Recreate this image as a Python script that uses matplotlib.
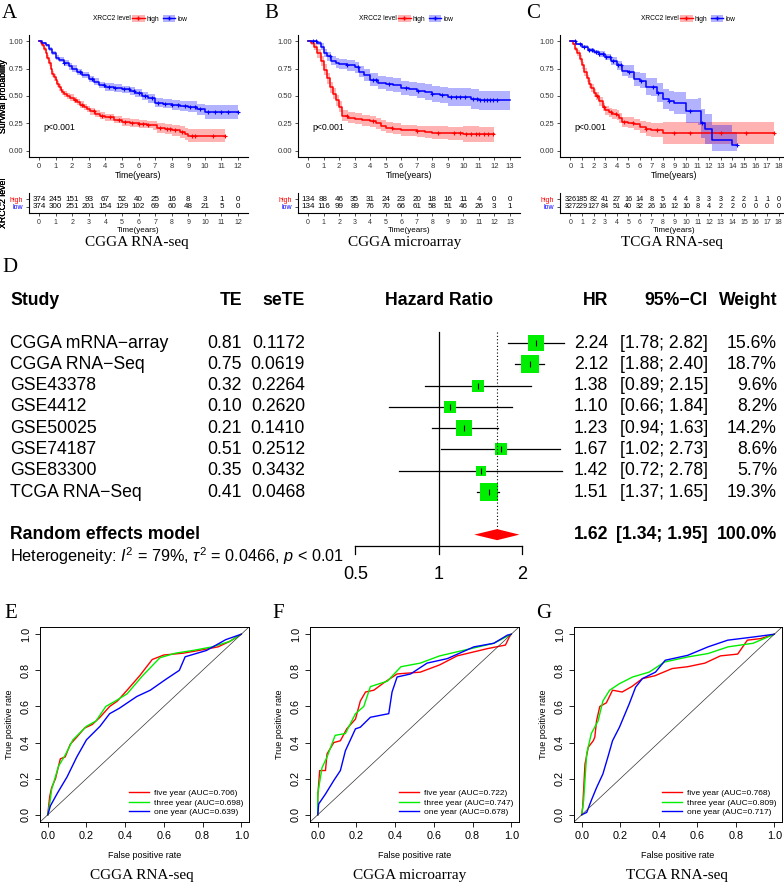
import numpy as np
import matplotlib
matplotlib.use("Agg")
import matplotlib.pyplot as plt
from matplotlib.patches import Patch, Polygon
from matplotlib.lines import Line2D
import matplotlib.transforms as mtrans

plt.rcParams['font.family'] = ['Liberation Sans', 'DejaVu Sans']
plt.rcParams['mathtext.fontset'] = 'custom'
plt.rcParams['mathtext.rm'] = 'Liberation Sans'
plt.rcParams['mathtext.it'] = 'Liberation Sans:italic'
SERIF = ['Liberation Serif', 'DejaVu Serif']

RED, BLUE, GREEN = '#FF0000', '#0000FF', '#00EE00'

# ---- KM curves (time, survival, CI half width, censor times) ----
a_hi_t = [0, 0.1, 0.2, 0.3, 0.4, 0.5, 0.6, 0.7, 0.8, 0.9, 1.0, 1.1, 1.2, 1.3, 1.4, 1.5,
          1.7, 1.9, 2.1, 2.3, 2.5, 2.7, 2.9, 3.1,
          3.4, 3.7, 4.0, 4.5, 5.0, 5.5, 6.0, 6.5, 6.9, 7.1, 7.6, 8.0, 8.5, 8.8, 9.0, 11.2]
a_hi_s = [1, .98, .96, .93, .89, .85, .80, .75, .70, .67, .645, .61, .58, .555, .535, .52,
          .50, .485, .465, .445, .42, .40, .38, .36,
          .34, .32, .305, .285, .265, .255, .245, .24, .235, .21, .20, .19, .17, .155, .14, .14]
a_hi_hw = [0, .01, .015, .02, .025, .025, .03, .03, .03, .03, .03, .03, .03, .03, .03, .03,
           .03, .03, .03, .03, .03, .03, .03, .03,
           .03, .03, .03, .03, .035, .035, .035, .035, .04, .045, .045, .05, .055, .055, .06, .06]
a_hi_c = [2.2, 2.6, 3.3, 3.8, 4.3, 4.8, 5.2, 5.6, 6.0, 6.3, 6.6, 7.3, 7.7, 7.9, 8.2, 8.6, 9.2, 9.4, 10.5, 11.2]

a_lo_t = [0, 0.2, 0.4, 0.6, 0.8, 1.0, 1.2, 1.5, 1.8, 2.0,
          2.3, 2.6, 3.0, 3.3, 3.6, 4.0, 4.5, 5.0, 5.5, 5.8,
          6.2, 6.6, 7.0, 7.5, 8.0, 8.5, 9.0, 9.5, 10.0, 12.0]
a_lo_s = [1, .985, .96, .93, .89, .85, .83, .80, .77, .75,
          .72, .69, .655, .63, .60, .58, .57, .56, .545, .525,
          .50, .48, .44, .43, .42, .41, .40, .38, .355, .355]
a_lo_hw = [0, .01, .015, .02, .02, .025, .025, .025, .03, .03,
           .03, .03, .03, .03, .03, .035, .035, .035, .035, .035,
           .04, .04, .04, .04, .045, .045, .05, .05, .06, .06]
a_lo_c = [1.5, 2.5, 3.2, 3.9, 4.2, 4.6, 5.1, 5.4, 5.7, 6.0, 6.4, 6.8, 7.2, 7.6, 8.0, 8.4, 8.8,
          9.1, 9.4, 9.7, 10.2, 10.6, 11.0, 11.4, 12.0]

b_hi_t = [0, 0.2, 0.4, 0.6, 0.8, 1.0, 1.2, 1.4, 1.6, 1.8,
          2.0, 2.2, 2.6, 3.0, 3.5, 4.0, 4.4, 4.7, 5.0, 5.5,
          6.0, 7.0, 7.5, 8.0, 9.0, 10.0, 11.0, 12.0]
b_hi_s = [1, .98, .95, .89, .82, .74, .66, .58, .52, .46,
          .40, .32, .30, .295, .28, .27, .25, .23, .21, .20,
          .19, .18, .17, .165, .16, .155, .15, .15]
b_hi_hw = [0, .02, .03, .04, .045, .05, .05, .05, .05, .05,
           .05, .05, .05, .05, .05, .05, .05, .05, .05, .05,
           .05, .05, .055, .06, .06, .07, .07, .07]
b_hi_c = [2.5, 4.2, 5.4, 7.0, 8.4, 9.4, 9.8, 10.2, 10.5, 10.8, 11.0, 11.3, 11.6, 11.9]

b_lo_t = [0, 0.3, 0.6, 0.8, 1.0, 1.2, 1.5, 1.8, 2.0, 2.5,
          3.0, 3.3, 3.6, 4.0, 4.5, 5.0, 5.5, 6.0, 6.5, 7.0,
          7.5, 8.0, 8.5, 9.0, 10.0, 10.5, 11.0, 13.0]
b_lo_s = [1, 1.0, .98, .95, .89, .86, .82, .80, .79, .78,
          .76, .72, .69, .65, .62, .61, .60, .575, .565, .55,
          .535, .52, .51, .49, .49, .47, .46, .46]
b_lo_hw = [0, .01, .02, .03, .035, .04, .04, .045, .045, .05,
           .05, .05, .055, .055, .06, .06, .06, .065, .065, .07,
           .07, .075, .075, .08, .08, .09, .09, .09]
b_lo_c = [0.3, 0.5, 1.4, 2.5, 3.2, 4.2, 4.4, 5.2, 6.3, 7.1, 8.0, 8.6, 9.2, 9.5, 9.8, 10.1,
          10.6, 10.9, 11.1, 11.3, 11.5, 11.7, 11.9, 12.2]

c_hi_t = [0, 0.2, 0.4, 0.6, 0.8, 1.0, 1.2, 1.4, 1.6, 1.8,
          2.0, 2.2, 2.5, 2.8, 3.0, 3.3, 3.6, 4.0, 4.2, 4.5,
          5.0, 5.5, 6.0, 6.5, 7.0, 8.0, 17.6]
c_hi_s = [1, .97, .93, .89, .84, .78, .72, .66, .61, .57,
          .53, .50, .45, .40, .37, .35, .34, .33, .30, .26,
          .255, .245, .22, .20, .19, .16, .16]
c_hi_hw = [0, .01, .02, .025, .03, .03, .035, .035, .035, .035,
           .035, .035, .04, .04, .04, .04, .045, .045, .045, .045,
           .05, .05, .055, .06, .065, .1, .1]
c_hi_c = [2.3, 2.9, 3.5, 3.9, 4.6, 5.4, 6.5, 7.5, 9.0, 10.3, 13.0, 15.2, 17.6]

c_lo_t = [0, 0.5, 1.0, 1.5, 2.0, 2.5, 3.0, 3.5, 4.0, 4.5,
          5.0, 5.5, 6.0, 6.5, 7.0, 7.5, 8.0, 8.5, 9.0, 10.0,
          11.0, 11.3, 11.6, 12.2, 14.0, 14.4]
c_lo_s = [1, .97, .95, .92, .90, .88, .855, .82, .78, .73,
          .72, .655, .64, .585, .58, .53, .47, .455, .44, .36,
          .36, .25, .20, .10, .05, .05]
c_lo_hw = [0, .01, .015, .02, .02, .025, .03, .035, .04, .05,
           .06, .065, .07, .075, .08, .085, .09, .095, .1, .11,
           .12, .13, .14, .14, .12, .12]
c_lo_c = [0.4, 0.8, 1.2, 1.6, 1.9, 2.2, 2.5, 2.8, 3.1, 3.4, 3.7, 4.1, 4.4, 5.1, 6.1, 7.1,
          7.6, 8.5, 10.3, 11.4, 14.4]

# numbers at risk
a_risk_hi = [374, 245, 151, 93, 67, 52, 40, 25, 16, 8, 3, 1, 0]
a_risk_lo = [374, 300, 251, 201, 154, 129, 102, 69, 60, 48, 21, 5, 0]
b_risk_hi = [134, 88, 46, 35, 31, 24, 23, 20, 18, 16, 11, 4, 0, 0]
b_risk_lo = [134, 116, 99, 89, 76, 70, 66, 61, 58, 51, 46, 26, 3, 1]
c_risk_hi = [326, 185, 82, 41, 27, 16, 14, 8, 5, 4, 4, 3, 3, 3, 2, 2, 1, 1, 0]
c_risk_lo = [327, 229, 127, 84, 51, 40, 32, 26, 16, 12, 10, 8, 4, 2, 2, 0, 0, 0, 0]

# ---- forest plot ----
studies = ['CGGA mRNA\u2212array', 'CGGA RNA\u2212Seq', 'GSE43378', 'GSE4412', 'GSE50025',
           'GSE74187', 'GSE83300', 'TCGA RNA\u2212Seq']
te = [0.81, 0.75, 0.32, 0.10, 0.21, 0.51, 0.35, 0.41]
se_te = [0.1172, 0.0619, 0.2264, 0.2620, 0.1410, 0.2512, 0.3432, 0.0468]
hr = [2.24, 2.12, 1.38, 1.10, 1.23, 1.67, 1.42, 1.51]
hr_lo = [1.78, 1.88, 0.89, 0.66, 0.94, 1.02, 0.72, 1.37]
hr_hi = [2.82, 2.40, 2.15, 1.84, 1.63, 2.73, 2.78, 1.65]
weight = [15.6, 18.7, 9.6, 8.2, 14.2, 8.6, 5.7, 19.3]
pooled = [1.62, 1.34, 1.95]

# ---- ROC curves ----
e_five = ([0, 0.005, 0.01, 0.02, 0.04, 0.065, 0.09, 0.116, 0.15, 0.19, 0.23, 0.27, 0.32, 0.36,
           0.41, 0.475, 0.54, 0.6, 0.7, 0.78, 0.88, 0.94, 1.0],
          [0, 0.05, 0.1, 0.15, 0.2, 0.31, 0.32, 0.39, 0.43, 0.48, 0.5, 0.54, 0.6, 0.63,
           0.69, 0.77, 0.86, 0.885, 0.895, 0.91, 0.93, 0.96, 1.0])
e_three = ([0, 0.01, 0.02, 0.056, 0.09, 0.13, 0.2, 0.25, 0.3, 0.35, 0.41, 0.49, 0.58, 0.66,
            0.75, 0.85, 0.94, 1.0],
           [0, 0.06, 0.14, 0.27, 0.33, 0.415, 0.49, 0.52, 0.6, 0.63, 0.67, 0.77, 0.87, 0.895,
            0.91, 0.93, 0.96, 1.0])
e_one = ([0, 0.014, 0.05, 0.1, 0.15, 0.2, 0.27, 0.32, 0.37, 0.46, 0.53, 0.61, 0.68, 0.71,
          0.82, 0.92, 1.0],
         [0, 0.05, 0.12, 0.21, 0.32, 0.415, 0.49, 0.56, 0.59, 0.655, 0.69, 0.75, 0.8, 0.875,
          0.91, 0.97, 1.0])
f_five = ([0, 0, 0.01, 0.04, 0.048, 0.083, 0.117, 0.15, 0.195, 0.22, 0.247, 0.29, 0.34, 0.41,
           0.53, 0.63, 0.72, 0.876, 0.97, 0.99, 1.0],
          [0, 0.1, 0.245, 0.245, 0.337, 0.4, 0.41, 0.476, 0.53, 0.63, 0.68, 0.69, 0.73, 0.78,
           0.79, 0.83, 0.88, 0.92, 0.94, 0.985, 1.0])
f_three = ([0, 0, 0.022, 0.048, 0.09, 0.143, 0.195, 0.238, 0.272, 0.36, 0.43, 0.53, 0.63, 0.77,
            0.91, 1.0],
           [0, 0.115, 0.26, 0.32, 0.44, 0.45, 0.56, 0.6, 0.71, 0.74, 0.82, 0.84, 0.88, 0.915,
            0.95, 1.0])
f_one = ([0, 0.005, 0.04, 0.083, 0.117, 0.143, 0.195, 0.22, 0.272, 0.367, 0.384, 0.41, 0.48,
          0.565, 0.67, 0.807, 0.91, 0.98, 1.0],
         [0, 0.06, 0.115, 0.19, 0.245, 0.355, 0.476, 0.485, 0.54, 0.56, 0.68, 0.763, 0.78,
          0.84, 0.865, 0.93, 0.95, 0.995, 1.0])
g_five = ([0, 0.005, 0.017, 0.034, 0.06, 0.068, 0.077, 0.094, 0.128, 0.16, 0.21, 0.26, 0.315,
           0.38, 0.47, 0.55, 0.64, 0.72, 0.81, 0.86, 0.93, 1.0],
          [0, 0.04, 0.28, 0.374, 0.41, 0.43, 0.52, 0.6, 0.62, 0.69, 0.68, 0.71, 0.754,
           0.77, 0.81, 0.82, 0.84, 0.88, 0.89, 0.967, 0.976, 1.0])
g_three = ([0, 0.01, 0.026, 0.05, 0.085, 0.11, 0.145, 0.196, 0.264, 0.35, 0.43, 0.55, 0.656,
            0.76, 0.89, 1.0],
           [0, 0.08, 0.34, 0.45, 0.52, 0.63, 0.69, 0.726, 0.763, 0.79, 0.846, 0.874, 0.893,
            0.93, 0.95, 1.0])
g_one = ([0, 0.026, 0.05, 0.077, 0.11, 0.136, 0.16, 0.196, 0.247, 0.28, 0.315, 0.383, 0.434,
          0.55, 0.656, 0.758, 0.894, 1.0],
         [0, 0.013, 0.08, 0.15, 0.226, 0.32, 0.41, 0.485, 0.615, 0.707, 0.754, 0.79, 0.856,
          0.883, 0.93, 0.967, 0.985, 1.0])
e_auc = [0.706, 0.698, 0.639]
f_auc = [0.722, 0.747, 0.678]
g_auc = [0.768, 0.809, 0.717]

W, H = 784, 883
fig = plt.figure(figsize=(W / 100, H / 100), dpi=100)


def box(x0, y0, x1, y1):
    return fig.add_axes([x0 / W, 1 - y1 / H, (x1 - x0) / W, (y1 - y0) / H])


def ftext(x, y, s, **kw):
    fig.text(x / W, 1 - y / H, s, **kw)


def surv_at(t, s, c):
    t = np.asarray(t)
    s = np.asarray(s)
    return s[np.searchsorted(t, c, side='right') - 1]


def style_gg(ax):
    for sp in ['top', 'right']:
        ax.spines[sp].set_visible(False)
    for sp in ['left', 'bottom']:
        ax.spines[sp].set_linewidth(0.8)
    ax.tick_params(length=2.5, width=0.6, labelsize=5.5, pad=1.5, colors='#333333')


def km_panel(px0, px1, tmax, groups, risk_hi, risk_lo, caption, cap_x, letter, let_x, leg_x, rfs):
    pad = tmax * 0.05
    ax = box(px0, 35, px1, 157)
    for t, s, hw, cens, col in groups:
        t, s, hw = np.array(t), np.array(s), np.array(hw)
        ax.fill_between(t, np.clip(s - hw, 0, 1), np.clip(s + hw, 0, 1), step='post',
                        color=col, alpha=0.3, lw=0)
        ax.step(t, s, where='post', color=col, lw=1.1)
        ax.plot(cens, surv_at(t, s, cens), '+', color=col, ms=3.5, mew=0.8)
    ax.set_xlim(-pad, tmax + pad)
    ax.set_ylim(-0.055, 1.055)
    ax.set_xticks(range(0, tmax + 1))
    ax.set_yticks([0, 0.25, 0.5, 0.75, 1.0])
    ax.set_yticklabels(['0.00', '0.25', '0.50', '0.75', '1.00'])
    style_gg(ax)
    ax.set_xlabel('Time(years)', fontsize=6.3, labelpad=1)
    ax.set_ylabel('Survival probability', fontsize=6.3)
    ax.yaxis.set_label_coords((8 - px0) / (px1 - px0), 0.5)
    ax.text(0.25 if tmax < 15 else 0.35, 0.21, 'p<0.001', fontsize=6.3, ha='left', va='center')

    # legend on top
    ftext(leg_x, 19, 'XRCC2 level', fontsize=4.8, ha='right', va='center')
    hands = [(Patch(color=RED, alpha=0.3, lw=0), Line2D([], [], color=RED, marker='+', ms=3, lw=1)),
             (Patch(color=BLUE, alpha=0.3, lw=0), Line2D([], [], color=BLUE, marker='+', ms=3, lw=1))]
    fig.legend(hands, ['high', 'low'], loc='center left', bbox_to_anchor=((leg_x + 1) / W, 1 - 19 / H),
               ncol=2, frameon=False, fontsize=4.8, handlelength=1.9, handleheight=1.2,
               columnspacing=0.5, handletextpad=0.3, borderpad=0, borderaxespad=0)

    # risk table
    tb = box(px0, 193, px1, 213)
    for i in range(tmax + 1):
        tb.text(i, 1, str(risk_hi[i]), fontsize=rfs, ha='center', va='center')
        tb.text(i, 0, str(risk_lo[i]), fontsize=rfs, ha='center', va='center')
    tb.set_xlim(-pad, tmax + pad)
    tb.set_ylim(-0.86, 1.86)
    tb.set_xticks(range(0, tmax + 1))
    tb.set_yticks([1, 0])
    tb.set_yticklabels(['high', 'low'])
    style_gg(tb)
    tb.tick_params(labelsize=5)
    tb.get_yticklabels()[0].set_color(RED)
    tb.get_yticklabels()[1].set_color(BLUE)
    tb.set_xlabel('Time(years)', fontsize=5.8, labelpad=1)
    tb.set_ylabel('XRCC2 level', fontsize=6.3)
    tb.yaxis.set_label_coords((8 - px0) / (px1 - px0), 0.5)

    ftext(cap_x, 243, caption, fontsize=11, family=SERIF, ha='center', va='center')
    ftext(let_x, 13, letter, fontsize=15, family=SERIF, ha='left', va='center')


km_panel(29, 248, 12, [(a_hi_t, a_hi_s, a_hi_hw, a_hi_c, RED), (a_lo_t, a_lo_s, a_lo_hw, a_lo_c, BLUE)],
         a_risk_hi, a_risk_lo, 'CGGA RNA-seq', 137, 'A', 2, 131, 5.8)
km_panel(298, 520, 13, [(b_hi_t, b_hi_s, b_hi_hw, b_hi_c, RED), (b_lo_t, b_lo_s, b_lo_hw, b_lo_c, BLUE)],
         b_risk_hi, b_risk_lo, 'CGGA microarray', 405, 'B', 264, 397, 5.8)
km_panel(560, 789, 18, [(c_hi_t, c_hi_s, c_hi_hw, c_hi_c, RED), (c_lo_t, c_lo_s, c_lo_hw, c_lo_c, BLUE)],
         c_risk_hi, c_risk_lo, 'TCGA RNA-seq', 672, 'C', 526, 679, 5.2)

# ---- panel D: forest plot ----
fx = box(0, 290, 784, 590)
fx.set_xscale('log')
fx.set_xlim(2 ** (-439 / 83.5), 2 ** ((784 - 439) / 83.5))
fx.set_ylim(11.6, -2.49)
fx.axis('off')
tr = mtrans.blended_transform_factory(fx.transAxes, fx.transData)
fs = 12.7


def col(px, y, s, ha, bold=False, size=fs):
    fx.text(px / W, y, s, transform=tr, fontsize=size, ha=ha, va='center',
            fontweight='bold' if bold else 'normal')


col(10, -2, 'Study', 'left', True)
col(242, -2, 'TE', 'right', True)
col(305, -2, 'seTE', 'right', True)
col(439, -2, 'Hazard Ratio', 'center', True)
col(608, -2, 'HR', 'right', True)
col(708, -2, '95%\u2212CI', 'right', True)
col(777, -2, 'Weight', 'right', True)

for i in range(len(studies)):
    col(10, i, studies[i], 'left')
    col(242, i, '%.2f' % te[i], 'right')
    col(305, i, '%.4f' % se_te[i], 'right')
    col(608, i, '%.2f' % hr[i], 'right')
    col(708, i, '[%.2f; %.2f]' % (hr_lo[i], hr_hi[i]), 'right')
    col(777, i, '%.1f%%' % weight[i], 'right')
    fx.plot([hr_lo[i], hr_hi[i]], [i, i], color='black', lw=0.9)
    fx.plot(hr[i], i, marker='s', ms=2.88 * np.sqrt(weight[i]), color=GREEN, mew=0)
    fx.plot(hr[i], i, marker='|', ms=5, color='black', mew=0.8)

col(10, 9, 'Random effects model', 'left', True)
col(608, 9, '%.2f' % pooled[0], 'right', True)
col(708, 9, '[%.2f; %.2f]' % (pooled[1], pooled[2]), 'right', True)
col(777, 9, '100.0%', 'right', True)
col(10, 10, r'Heterogeneity: $I^2$ = 79%, $\tau^2$ = 0.0466, $p$ < 0.01', 'left', size=11.7)

fx.add_patch(Polygon([(pooled[1], 9), (pooled[0], 8.74), (pooled[2], 9), (pooled[0], 9.26)],
                     closed=True, color=RED, lw=0))
fx.plot([1, 1], [-0.5, 9.55], color='black', lw=0.9)
fx.plot([pooled[0], pooled[0]], [-0.5, 8.74], color='black', lw=0.8, ls=(0, (1, 2)))
fx.plot([0.5, 2], [9.55, 9.55], color='black', lw=0.9)
for v, s in [(0.5, '0.5'), (1, '1'), (2, '2')]:
    fx.plot([v, v], [9.55, 9.9], color='black', lw=0.9)
    fx.text(v, 10.85, s, fontsize=13, ha='center', va='center')
ftext(2, 267, 'D', fontsize=15, family=SERIF, ha='left', va='center')


# ---- ROC panels ----
def roc_panel(px0, px1, curves, aucs, caption, cap_x, letter, let_x):
    ax = box(px0, 627, px1, 822)
    names = ['five year', 'three year', 'one year']
    for (x, y), c, n, a in zip(curves, [RED, GREEN, BLUE], names, aucs):
        ax.plot(x, y, color=c, lw=1.0, label='%s (AUC=%.3f)' % (n, a))
    ax.axline((0, 0), (1, 1), color='#333333', lw=0.5)
    ax.set_xlim(-0.04, 1.04)
    ax.set_ylim(-0.04, 1.04)
    tk = [0, 0.2, 0.4, 0.6, 0.8, 1.0]
    ax.set_xticks(tk)
    ax.set_yticks(tk)
    ax.set_xticklabels(['%.1f' % v for v in tk])
    ax.set_yticklabels(['%.1f' % v for v in tk], rotation=90, va='center')
    ax.tick_params(length=3.5, width=0.6, labelsize=7.8, pad=3)
    for sp in ax.spines.values():
        sp.set_linewidth(0.7)
    ax.set_xlabel('False positive rate', fontsize=6.5, labelpad=7)
    ax.set_ylabel('True positive rate', fontsize=6.5, labelpad=5)
    ax.legend(loc='lower right', fontsize=6, frameon=False, handlelength=2.4,
              labelspacing=0.2, borderaxespad=0.3, handletextpad=0.6)
    ftext(cap_x, 875, caption, fontsize=11, family=SERIF, ha='center', va='center')
    ftext(let_x, 613, letter, fontsize=15, family=SERIF, ha='left', va='center')


roc_panel(40, 249, [e_five, e_three, e_one], e_auc, 'CGGA RNA-seq', 142, 'E', 4)
roc_panel(310, 519, [f_five, f_three, f_one], f_auc, 'CGGA microarray', 410, 'F', 272)
roc_panel(574, 782, [g_five, g_three, g_one], g_auc, 'TCGA RNA-seq', 677, 'G', 536)

fig.savefig('out.png', dpi=100)
